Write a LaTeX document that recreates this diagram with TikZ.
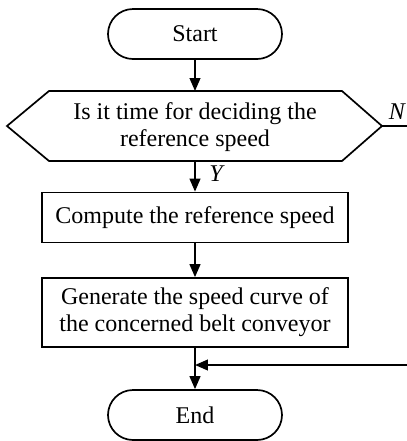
\documentclass[tikz,border=0pt]{standalone}
\usepackage{fontspec}
\setmainfont{Liberation Serif}
\usetikzlibrary{arrows.meta}
\begin{document}
\begin{tikzpicture}[x=0.5pt,y=-0.5pt,
  line width=0.85pt,
  font=\fontsize{12}{13.5}\selectfont,
  term/.style={draw, rounded corners=12.5pt, minimum width=87pt, minimum height=25pt, inner sep=0pt},
  procbox/.style={draw, minimum width=153pt, inner sep=0pt, align=center},
  arr/.style={-{Triangle[length=6.5pt,width=5.4pt]}}]
\useasboundingbox (0,0) rectangle (407,441);
\node[term] (start) at (195,34) {Start};
% decision hexagon
\coordinate (hL) at (7,126);
\coordinate (hR) at (382,126);
\draw (hL) -- (49,91) -- (342,91) -- (hR) -- (342,161) -- (49,161) -- cycle;
\coordinate (hT) at (195,91);
\coordinate (hB) at (195,161);
\node[align=center, inner sep=0pt] (dec) at (195,127) {Is it time for deciding the\\reference speed};
\node[procbox, minimum height=25pt] (comp) at (195,217.5) {Compute the reference speed};
\node[procbox, minimum height=34.5pt] (gen) at (195,312.5) {Generate the speed curve of\\the concerned belt conveyor};
\node[term] (end) at (195,415) {End};
\draw[arr] (start) -- (hT);
\draw[arr] (hB) -- (comp);
\draw[arr] (comp) -- (gen);
\draw[arr] (gen) -- (end);
\coordinate (mid) at (195,365);
\begin{scope}
\clip (0,0) rectangle (407,441);
\coordinate (rt) at (412,126);
\coordinate (rb) at (412,365);
\draw[arr] (hR) -- (rt) -- (rb) -- (mid);
\end{scope}
\node[font=\fontsize{12}{13.5}\selectfont\itshape] (nlab) at (397,112) {N};
\node[font=\fontsize{12}{13.5}\selectfont\itshape] (ylab) at (216,174) {Y};
\end{tikzpicture}
\end{document}
